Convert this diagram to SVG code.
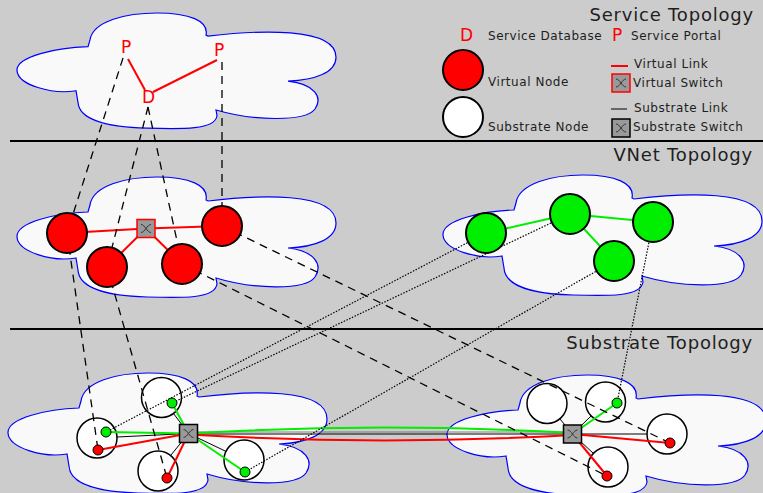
<svg xmlns="http://www.w3.org/2000/svg" width="763" height="493" viewBox="0 0 763 493">
<defs>
<style>
.cloud{fill:#f9f9f9;stroke:#0000ff;stroke-width:1.2}
.title{font-family:"DejaVu Sans",sans-serif;font-size:18px;fill:#1e1e1e;text-anchor:end;letter-spacing:0.8px}
.leg{font-family:"DejaVu Sans",sans-serif;font-size:12px;fill:#1e1e1e;letter-spacing:0.55px}
.svc{font-family:"DejaVu Sans",sans-serif;font-size:17px;fill:#ff0000}
.sep{stroke:#000;stroke-width:2}
.vred{fill:#ff0000;stroke:#000;stroke-width:2}
.vgrn{fill:#00ee00;stroke:#000;stroke-width:2}
.sub{fill:#fff;stroke:#000;stroke-width:1.5}
.dr{fill:#ff0000;stroke:#000;stroke-width:1}
.dg{fill:#00ee00;stroke:#000;stroke-width:1}
.lr{stroke:#ff0000;stroke-width:2;fill:none}
.lg{stroke:#00ee00;stroke-width:2;fill:none}
.lb{stroke:#000;stroke-width:1;fill:none}
.lgray{stroke:#777;stroke-width:1;fill:none}
.dash{stroke:#000;stroke-width:1.3;stroke-dasharray:8 6;fill:none}
.dot{stroke:#000;stroke-width:1.2;stroke-dasharray:1.5 1.5;fill:none}
.vsw{fill:#999;stroke:#ff0000;stroke-width:1.5}
.ssw{fill:#999;stroke:#000;stroke-width:1.5}
.gl{fill:none;stroke:#333;stroke-width:1}
</style>
<path id="cloud" vector-effect="non-scaling-stroke" d="M0,60 C-1,45 40,36 71,35 L73,28 C76,8 110,0 140,0 C172,0 192,8 189,23 L191,24 C240,18 319,14 319,46 C319,62 298,70 271,71 C298,74 306,88 298,100 C288,114 235,112 199,101 L200,107 C198,122 165,121 130,120 C90,119 62,111 61,93 L59,81 C35,85 1,75 0,60 Z"/>
<g id="xg"><path class="gl" d="M4,5 C8,5 10,13 14,13 M14,5 C10,5 8,13 4,13"/></g>
</defs>

<rect x="0" y="0" width="763" height="493" fill="#cccccc"/>

<g id="clouds">
<use href="#cloud" class="cloud" transform="translate(17,13) scale(1,0.96)"/>
<use href="#cloud" class="cloud" transform="translate(17,177)"/>
<use href="#cloud" class="cloud" transform="translate(443,175)"/>
<use href="#cloud" class="cloud" transform="translate(8,373)"/>
<use href="#cloud" class="cloud" transform="translate(447,375)"/>
</g>

<g id="separators">
<line class="sep" x1="10" y1="141" x2="763" y2="141"/>
<line class="sep" x1="10" y1="329" x2="763" y2="329"/>
</g>

<g id="titles">
<text class="title" x="754" y="21">Service Topology</text>
<text class="title" x="753" y="161">VNet Topology</text>
<text class="title" x="753" y="349">Substrate Topology</text>
</g>

<g id="substrate-nodes">
<g id="s1"><circle class="sub" cx="97" cy="438" r="20"/></g>
<g id="s2"><circle class="sub" cx="161.5" cy="397.5" r="20"/></g>
<g id="s3"><circle class="sub" cx="158" cy="471" r="20"/></g>
<g id="s4"><circle class="sub" cx="244" cy="460" r="20"/></g>
<g id="r1"><circle class="sub" cx="547" cy="403.5" r="20"/></g>
<g id="r2"><circle class="sub" cx="605.5" cy="402" r="20"/></g>
<g id="r3"><circle class="sub" cx="667" cy="434" r="20"/></g>
<g id="r4"><circle class="sub" cx="608" cy="467" r="20"/></g>
</g>

<g id="connectors">
<line class="lb" x1="188.5" y1="433.5" x2="117" y2="437"/>
<line class="lb" x1="188.5" y1="433.5" x2="173.5" y2="413.5"/>
<line class="lb" x1="188.5" y1="433.5" x2="170.6" y2="455.5"/>
<line class="lb" x1="188.5" y1="433.5" x2="226" y2="451.4"/>
<line class="lb" x1="572.5" y1="434" x2="559.8" y2="418.8"/>
<line class="lb" x1="572.5" y1="434" x2="591.2" y2="415.9"/>
<line class="lb" x1="572.5" y1="434" x2="647" y2="434"/>
<line class="lb" x1="572.5" y1="434" x2="593.4" y2="453.4"/>
<line class="lgray" x1="188.5" y1="432" x2="572.5" y2="432"/>
<line class="lb" x1="188.5" y1="434" x2="572.5" y2="434"/>
<path class="lg" d="M188.5,433.5 Q380,422 572.5,433"/>
<path class="lr" d="M188.5,434.5 Q380,446 572.5,435"/>
<line class="lg" x1="188.5" y1="433.5" x2="106" y2="432"/>
<line class="lg" x1="188.5" y1="433.5" x2="172" y2="403"/>
<line class="lg" x1="188.5" y1="433.5" x2="245" y2="472"/>
<line class="lr" x1="188.5" y1="433.5" x2="98" y2="450"/>
<line class="lr" x1="188.5" y1="433.5" x2="167" y2="478"/>
<line class="lg" x1="572.5" y1="434" x2="617" y2="403"/>
<line class="lr" x1="572.5" y1="434" x2="670" y2="443"/>
<line class="lr" x1="572.5" y1="434" x2="607" y2="476"/>
<line class="lr" x1="67" y1="233" x2="146" y2="228.5"/>
<line class="lr" x1="146" y1="228.5" x2="222" y2="226"/>
<line class="lr" x1="146" y1="228.5" x2="107" y2="267"/>
<line class="lr" x1="146" y1="228.5" x2="182" y2="264"/>
<line class="lg" x1="486" y1="233" x2="570" y2="214"/>
<line class="lg" x1="570" y1="214" x2="653" y2="222"/>
<line class="lg" x1="570" y1="214" x2="614" y2="261"/>
<line class="lr" x1="128" y1="59" x2="145" y2="90"/>
<line class="lr" x1="153" y1="92" x2="217" y2="60"/>
<line class="dash" x1="123" y1="58" x2="67" y2="233"/>
<line class="dash" x1="148" y1="107" x2="107" y2="267"/>
<line class="dash" x1="148" y1="107" x2="182" y2="264"/>
<line class="dash" x1="222" y1="62" x2="222" y2="226"/>
<line class="dash" x1="67" y1="233" x2="98" y2="450"/>
<line class="dash" x1="107" y1="267" x2="167" y2="478"/>
<line class="dash" x1="182" y1="264" x2="607" y2="476"/>
<line class="dash" x1="222" y1="226" x2="670" y2="443"/>
<line class="dot" x1="486" y1="233" x2="106" y2="432"/>
<line class="dot" x1="570" y1="214" x2="172" y2="403"/>
<line class="dot" x1="614" y1="261" x2="245" y2="472"/>
<line class="dot" x1="653" y1="222" x2="617" y2="403"/>
</g>

<g id="service-nodes">
<g id="svc-p1"><text class="svc" x="121" y="53">P</text></g>
<g id="svc-p2"><text class="svc" x="214" y="56">P</text></g>
<g id="svc-d"><text class="svc" x="142" y="103">D</text></g>
</g>

<g id="vnet-nodes">
<g id="va"><circle class="vred" cx="67" cy="233" r="20"/></g>
<g id="vb"><circle class="vred" cx="107" cy="267" r="20"/></g>
<g id="vc"><circle class="vred" cx="182" cy="264" r="20"/></g>
<g id="vd"><circle class="vred" cx="222" cy="226" r="20"/></g>
<g id="vsw"><rect class="vsw" x="137" y="219.5" width="18" height="18"/><use href="#xg" transform="translate(137,219.5)"/></g>
<g id="g1"><circle class="vgrn" cx="486" cy="233" r="20"/></g>
<g id="g2"><circle class="vgrn" cx="570" cy="214" r="20"/></g>
<g id="g3"><circle class="vgrn" cx="653" cy="222" r="20"/></g>
<g id="g4"><circle class="vgrn" cx="614" cy="261" r="20"/></g>
</g>

<g id="embedded">
<g id="e-va"><circle class="dr" cx="98" cy="450" r="5"/></g>
<g id="e-g1"><circle class="dg" cx="106" cy="432" r="5"/></g>
<g id="e-g2"><circle class="dg" cx="172" cy="403" r="5"/></g>
<g id="e-vb"><circle class="dr" cx="167" cy="478" r="5"/></g>
<g id="e-g4"><circle class="dg" cx="245" cy="472" r="5"/></g>
<g id="e-g3"><circle class="dg" cx="617" cy="403" r="5"/></g>
<g id="e-vd"><circle class="dr" cx="670" cy="443" r="5"/></g>
<g id="e-vc"><circle class="dr" cx="607" cy="476" r="5"/></g>
<g id="ssw-left"><rect class="ssw" x="179.5" y="424.5" width="18" height="18"/><use href="#xg" transform="translate(179.5,424.5)"/></g>
<g id="ssw-right"><rect class="ssw" x="563.5" y="425" width="18" height="18"/><use href="#xg" transform="translate(563.5,425)"/></g>
</g>

<g id="legend">
<text class="svc" x="460" y="41">D</text>
<text class="leg" x="488" y="40">Service Database</text>
<text class="svc" x="612" y="41">P</text>
<text class="leg" x="631" y="40">Service Portal</text>
<circle class="vred" cx="463" cy="70" r="20"/>
<text class="leg" x="488" y="86">Virtual Node</text>
<circle class="vred" cx="463" cy="117" r="20" style="fill:#fff"/>
<text class="leg" x="488" y="131">Substrate Node</text>
<line class="lr" x1="611" y1="66" x2="628" y2="66"/>
<text class="leg" x="634" y="68">Virtual Link</text>
<rect class="vsw" x="612" y="74" width="18" height="18"/><use href="#xg" transform="translate(612,74)"/>
<text class="leg" x="633" y="87">Virtual Switch</text>
<line class="lb" x1="611" y1="109" x2="627" y2="109"/>
<text class="leg" x="634" y="112">Substrate Link</text>
<rect class="ssw" x="612" y="119" width="18" height="18"/><use href="#xg" transform="translate(612,119)"/>
<text class="leg" x="633" y="131">Substrate Switch</text>
</g>
</svg>
